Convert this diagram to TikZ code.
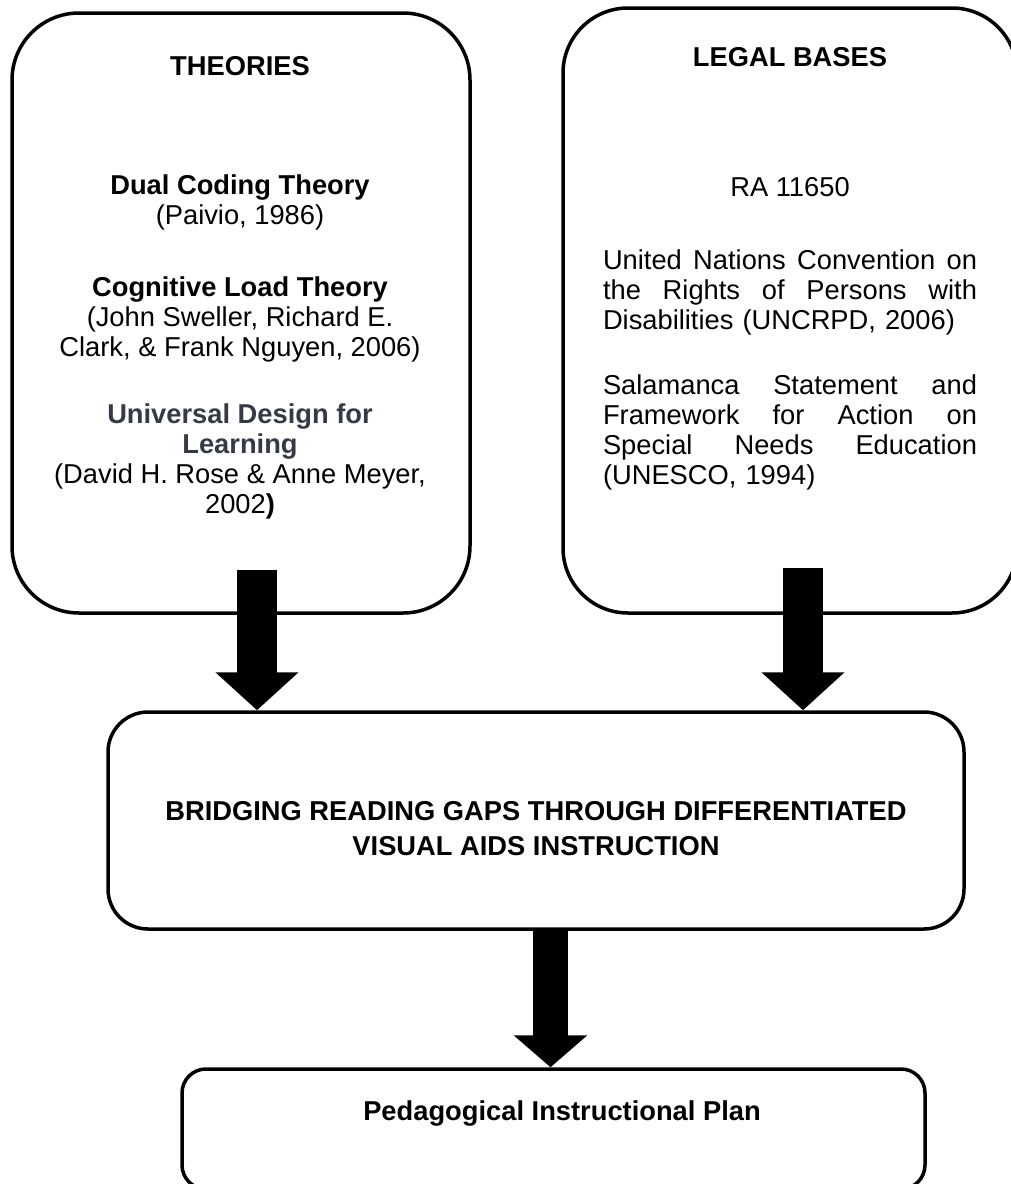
\documentclass[tikz,border=0pt]{standalone}
\usepackage{fontspec}
\setmainfont{Liberation Sans}
\usepackage{xcolor}
\usetikzlibrary{arrows.meta}
\definecolor{udlcolor}{RGB}{52,58,70}
\newcommand{\txtsize}{\fontsize{27.3pt}{30pt}\selectfont}
\newcommand{\fitline}[1]{{\spaceskip=0.278em plus 1fil\makebox[374pt][s]{#1}}}

\begin{document}
\begin{tikzpicture}[x=1pt, y=-1pt,
    frame/.style={draw=black, line width=3.5pt, rounded corners=#1},
    body/.style={font=\txtsize},
    head/.style={font=\txtsize\bfseries},
    bigarrow/.style n args={3}{line width=#1, -{Triangle[width=#2,length=#3]}}]
    \useasboundingbox (0,0) rectangle (1010,1184);
    % boxes
    \node[frame=67pt, minimum width=458pt, minimum height=600pt] (theo) at (241,313) {};
    \node[frame=65pt, minimum width=454pt, minimum height=605pt] (legal) at (790,310.5) {};
    \node[frame=40pt, minimum width=856pt, minimum height=217pt] (bridge) at (536,820.5) {};
    \node[frame=24pt, minimum width=743pt, minimum height=120pt] (plan) at (553.5,1129) {};
    % theories
    \node[head] (theohead) at (240,66) {THEORIES};
    \node[body, align=center] (dual) at (240,202) {\textbf{Dual Coding Theory}\\(Paivio, 1986)};
    \node[body, align=center] (cog) at (240,319) {\textbf{Cognitive Load Theory}\\(John Sweller, Richard E.\\Clark, \& Frank Nguyen, 2006)};
    \node[body, align=center] (udl) at (240,461) {\textcolor{udlcolor}{\textbf{Universal Design for}}\\\textcolor{udlcolor}{\textbf{Learning}}\\(David H. Rose \& Anne Meyer,\\2002\textbf{)}};
    % legal bases
    \node[head] (legalhead) at (790,57) {LEGAL BASES};
    \node[body] (ra) at (790,187) {RA 11650};
    \node[body, text width=374pt, align=left] (uncrpd) at (790,292) {\fitline{United Nations Convention on}\\\fitline{the Rights of Persons with}\\Disabilities (UNCRPD, 2006)};
    \node[body, text width=374pt, align=left] (salamanca) at (790,432.5) {\fitline{Salamanca Statement and}\\\fitline{Framework for Action on}\\\fitline{Special Needs Education}\\(UNESCO, 1994)};
    % middle and bottom
    \node[font=\fontsize{27.3pt}{35pt}\selectfont\bfseries, align=center] (bridgetext) at (536,829) {BRIDGING READING GAPS THROUGH DIFFERENTIATED\\VISUAL AIDS INSTRUCTION};
    \node[head] (plantext) at (562,1113) {Pedagogical Instructional Plan};
    % arrows
    \draw[bigarrow={40pt}{81pt}{38pt}] ([xshift=16pt,yshift=45pt]theo.south) -- ([xshift=16pt]theo.south |- bridge.north);
    \draw[bigarrow={40pt}{81pt}{38pt}] ([xshift=13pt,yshift=47pt]legal.south) -- ([xshift=13pt]legal.south |- bridge.north);
    \draw[bigarrow={35pt}{72pt}{32pt}] ([xshift=14.5pt,yshift=2pt]bridge.south) -- ([xshift=14.5pt]bridge.south |- plan.north);
\end{tikzpicture}
\end{document}
